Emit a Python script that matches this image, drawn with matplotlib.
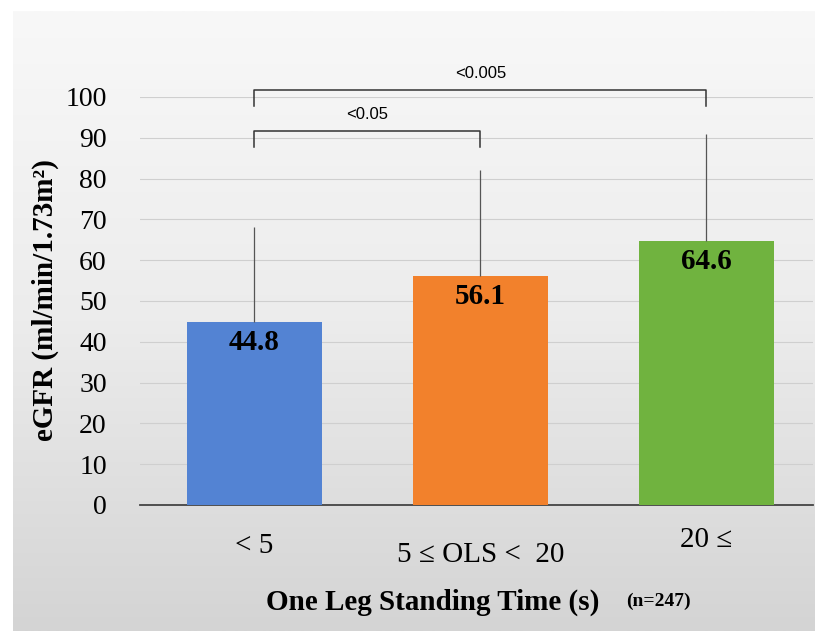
import numpy as np
import matplotlib
matplotlib.use('Agg')
import matplotlib.pyplot as plt

# data
groups = ['< 5', '5 \u2264 OLS <  20', '20 \u2264']
egfr_mean = [44.8, 56.1, 64.6]
egfr_sd = [23.4, 25.9, 26.4]
bar_colors = ['#5383d3', '#f2812c', '#70b33f']
# (left group, right group, p-value label, bracket height)
brackets = [(0, 1, '<0.05', 91.7), (0, 2, '<0.005', 101.7)]

serif = ['Liberation Serif', 'DejaVu Serif']
sans = ['Liberation Sans', 'DejaVu Sans']

fig = plt.figure(figsize=(8.15, 6.31), dpi=100, facecolor='white')

# gray gradient panel behind the chart
bg = fig.add_axes([0.016, 0.0, 0.984, 0.982], zorder=0)
grad = np.linspace(0, 1, 256).reshape(-1, 1)
bg.imshow(grad, aspect='auto', cmap=matplotlib.colors.LinearSegmentedColormap.from_list(
    'bg', ['#f8f8f8', '#ececec', '#d4d4d4']), extent=[0, 1, 0, 1], origin='upper')
bg.axis('off')

ax = fig.add_axes([0.172, 0.1997, 0.825, 0.6466], zorder=1)
ax.patch.set_alpha(0)

x = np.arange(len(groups))
ax.bar(x, egfr_mean, width=0.6, color=bar_colors, zorder=3)
ax.errorbar(x, egfr_mean, yerr=[[0] * len(x), egfr_sd], fmt='none',
            ecolor='#555555', elinewidth=0.9, capsize=0, zorder=4)

for xi, v in zip(x, egfr_mean):
    ax.text(xi, v - 5.0, f'{v}', ha='center', va='center', fontsize=21,
            fontweight='bold', family=serif, zorder=5)

# significance brackets
for a, b, label, h in brackets:
    ax.plot([a, a, b, b], [h - 4, h, h, h - 4], color='#333333', lw=1.1,
            clip_on=False, zorder=5)
    ax.text((a + b) / 2, h + 4.0, label, ha='center', va='center',
            fontsize=12, family=sans, clip_on=False)

ax.set_ylim(0, 100)
ax.set_xlim(-0.505, 2.47)
ax.set_yticks(range(0, 101, 10))
ax.set_yticklabels([str(t) for t in range(0, 101, 10)], family=serif, fontsize=20)
ax.tick_params(axis='y', length=0, pad=24)
ax.set_xticks([])
ax.grid(axis='y', color='#cfcfcf', lw=0.8, zorder=0)
for s in ['top', 'right', 'left']:
    ax.spines[s].set_visible(False)
ax.spines['bottom'].set_color('#444444')
ax.spines['bottom'].set_linewidth(1.3)

# category labels under the bars
label_y = [-10.0, -12.2, -8.6]
for xi, lab, ly in zip(x, groups, label_y):
    ax.text(xi, ly, lab, ha='center', va='center', fontsize=21,
            family=serif, clip_on=False)

ax.text(0.79, -23.8, 'One Leg Standing Time (s)', ha='center', va='center',
        fontsize=21, fontweight='bold', family=serif, clip_on=False)
ax.text(1.79, -23.6, '(n=247)', ha='center', va='center', fontsize=14,
        fontweight='bold', family=serif, clip_on=False)

fig.text(0.056, 0.525, 'eGFR (ml/min/1.73m\u00b2)', rotation=90, ha='center',
         va='center', fontsize=21, fontweight='bold', family=serif)

fig.savefig('out.png', dpi=100, facecolor=fig.get_facecolor())
